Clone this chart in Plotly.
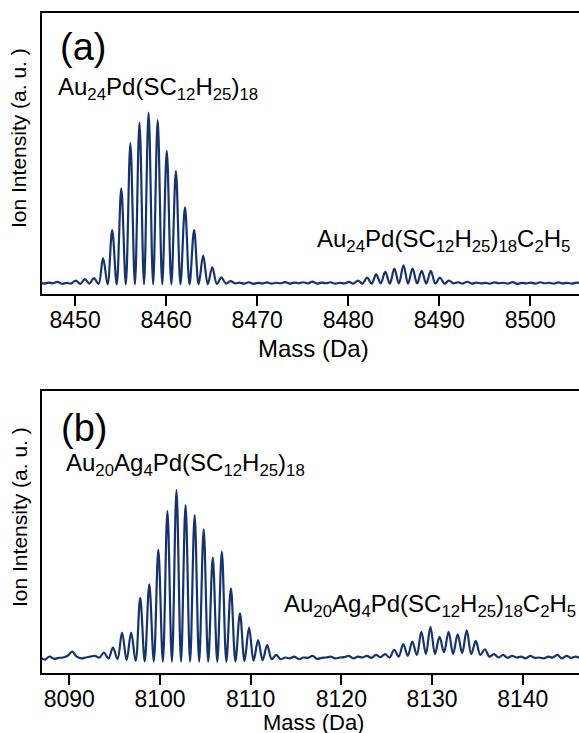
import plotly.graph_objects as go

W, H = 579, 733

# ---------------- data ----------------
# Panel (a): Au24Pd(SC12H25)18 ; samples every 0.5 Da (isotope apex, valley, apex, ...)
a_start_mass = 8446.07
a_step = 0.5
a_intensity = [
    0.012, 0.004, 0.010, 0.006, 0.014, 0.003, 0.008, 0.005,   # 8446-8449
    0.022, 0.002, 0.030, 0.004, 0.036, 0.002, 0.152, 0.000,   # 8450-8453
    0.316, 0.000, 0.559, 0.000, 0.822, 0.000, 0.942, 0.000,   # 8454-8457
    1.000, 0.000, 0.957, 0.000, 0.777, 0.000, 0.660, 0.000,   # 8458-8461
    0.449, 0.000, 0.316, 0.000, 0.167, 0.000, 0.099, 0.002,   # 8462-8465
    0.040, 0.004, 0.018, 0.006, 0.010, 0.004, 0.012, 0.003,   # 8466-8469
    0.008, 0.005, 0.011, 0.004, 0.009, 0.006, 0.013, 0.004,   # 8470-8473
    0.010, 0.006, 0.012, 0.005, 0.016, 0.004, 0.010, 0.006,   # 8474-8477
    0.012, 0.004, 0.009, 0.005, 0.014, 0.004, 0.022, 0.004,   # 8478-8481
    0.039, 0.004, 0.058, 0.005, 0.072, 0.004, 0.091, 0.005,   # 8482-8485
    0.111, 0.004, 0.091, 0.005, 0.078, 0.004, 0.078, 0.005,   # 8486-8489
    0.039, 0.004, 0.022, 0.005, 0.012, 0.004, 0.015, 0.004,   # 8490-8493
    0.010, 0.005, 0.008, 0.004, 0.011, 0.006, 0.009, 0.004,   # 8494-8497
    0.013, 0.003, 0.008, 0.005, 0.010, 0.004, 0.012, 0.006,   # 8498-8501
    0.009, 0.004, 0.011, 0.005, 0.008, 0.004, 0.010, 0.005,   # 8502-8505
]

# Panel (b): Au20Ag4Pd(SC12H25)18
b_start_mass = 8086.82
b_step = 0.5
b_intensity = [
    0.030, 0.018, 0.036, 0.022, 0.028, 0.030, 0.040, 0.064,   # 8086-8089
    0.035, 0.025, 0.030, 0.035, 0.040, 0.030, 0.058, 0.025,   # 8090-8093
    0.087, 0.020, 0.174, 0.015, 0.174, 0.010, 0.376, 0.008,   # 8094-8097
    0.454, 0.008, 0.653, 0.006, 0.878, 0.006, 1.000, 0.006,   # 8098-8101
    0.913, 0.006, 0.855, 0.006, 0.772, 0.006, 0.608, 0.006,   # 8102-8105
    0.643, 0.006, 0.431, 0.008, 0.286, 0.010, 0.203, 0.012,   # 8106-8109
    0.131, 0.015, 0.102, 0.020, 0.045, 0.020, 0.030, 0.025,   # 8110-8113
    0.035, 0.020, 0.030, 0.028, 0.040, 0.022, 0.028, 0.030,   # 8114-8117
    0.035, 0.025, 0.030, 0.032, 0.040, 0.025, 0.035, 0.030,   # 8118-8121
    0.040, 0.028, 0.045, 0.032, 0.050, 0.030, 0.075, 0.035,   # 8122-8125
    0.108, 0.040, 0.122, 0.045, 0.179, 0.050, 0.208, 0.050,   # 8126-8129
    0.150, 0.060, 0.179, 0.050, 0.164, 0.055, 0.188, 0.050,   # 8130-8133
    0.126, 0.045, 0.078, 0.035, 0.050, 0.030, 0.045, 0.028,   # 8134-8137
    0.040, 0.030, 0.035, 0.025, 0.040, 0.028, 0.030, 0.025,   # 8138-8141
    0.035, 0.030, 0.045, 0.025, 0.040, 0.028, 0.035, 0.025,   # 8142-8145
]

a_labels = ["Au<sub>24</sub>Pd(SC<sub>12</sub>H<sub>25</sub>)<sub>18</sub>",
            "Au<sub>24</sub>Pd(SC<sub>12</sub>H<sub>25</sub>)<sub>18</sub>C<sub>2</sub>H<sub>5</sub>"]
b_labels = ["Au<sub>20</sub>Ag<sub>4</sub>Pd(SC<sub>12</sub>H<sub>25</sub>)<sub>18</sub>",
            "Au<sub>20</sub>Ag<sub>4</sub>Pd(SC<sub>12</sub>H<sub>25</sub>)<sub>18</sub>C<sub>2</sub>H<sub>5</sub>"]
panel_tags = ["(a)", "(b)"]
x_title = "Mass (Da)"
y_title = "Ion Intensity (a. u. )"

a_mass = [a_start_mass + a_step * i for i in range(len(a_intensity))]
b_mass = [b_start_mass + b_step * i for i in range(len(b_intensity))]

# ---------------- figure ----------------
LINE = "#17336e"
FONT = "Liberation Sans, Arial, sans-serif"

def px_x(p):
    return p / W

def px_y(p):
    return 1 - p / H

fig = go.Figure()
fig.add_trace(go.Scatter(x=a_mass, y=a_intensity, mode="lines", xaxis="x", yaxis="y",
                         line=dict(color=LINE, width=2.2, shape="spline", smoothing=1.0),
                         showlegend=False))
fig.add_trace(go.Scatter(x=b_mass, y=b_intensity, mode="lines", xaxis="x2", yaxis="y2",
                         line=dict(color=LINE, width=2.2, shape="spline", smoothing=1.0),
                         showlegend=False))

xcommon = dict(showline=True, mirror=True, linecolor="black", linewidth=2,
               ticks="outside", ticklen=10, tickwidth=2, tickcolor="black",
               tickfont=dict(size=23, color="black", family=FONT),
               ticklabelstandoff=-6,
               dtick=10, showgrid=False, zeroline=False)
ycommon = dict(showline=True, mirror=False, linecolor="black", linewidth=2,
               showticklabels=False, ticks="", showgrid=False, zeroline=False)

xdom = [px_x(41.7), 1.0]
fig.update_layout(
    width=W, height=H,
    margin=dict(l=0, r=0, t=0, b=0),
    paper_bgcolor="white", plot_bgcolor="white",
    font=dict(family=FONT, color="black"),
    xaxis=dict(domain=xdom, anchor="y", range=[8446.33, 8505.35], tick0=8450, **xcommon),
    yaxis=dict(domain=[px_y(294), px_y(13.3)], anchor="x", range=[-0.0565, 1.579], **ycommon),
    xaxis2=dict(domain=xdom, anchor="y2", range=[8086.96, 8146.2], tick0=8090, **xcommon),
    yaxis2=dict(domain=[px_y(673.3), px_y(390.7)], anchor="x2", range=[-0.0614, 1.575], **ycommon),
)

ann = []
def add(text, x, y, size, xanchor="left", yanchor="middle", angle=0):
    ann.append(dict(text=text, x=px_x(x), y=px_y(y), xref="paper", yref="paper",
                    xanchor=xanchor, yanchor=yanchor, showarrow=False, textangle=angle,
                    font=dict(size=size, color="black", family=FONT)))

add(panel_tags[0], 58, 47, 38)
add(panel_tags[1], 59, 428, 38)
add(a_labels[0], 56, 88, 24)
add(a_labels[1], 315, 240, 24)
add(b_labels[0], 64, 465, 24)
add(b_labels[1], 282, 605, 24)
add(x_title, 313, 348, 24, xanchor="center")
add(x_title, 313, 722.5, 22, xanchor="center")
add(y_title, 19, 138, 21, xanchor="center", angle=-90)
add(y_title, 19, 517, 21, xanchor="center", angle=-90)
fig.update_layout(annotations=ann)

fig.write_html("out.html", config={"displayModeBar": False},
               post_script="document.body.style.margin='0';document.body.style.overflow='hidden';")
